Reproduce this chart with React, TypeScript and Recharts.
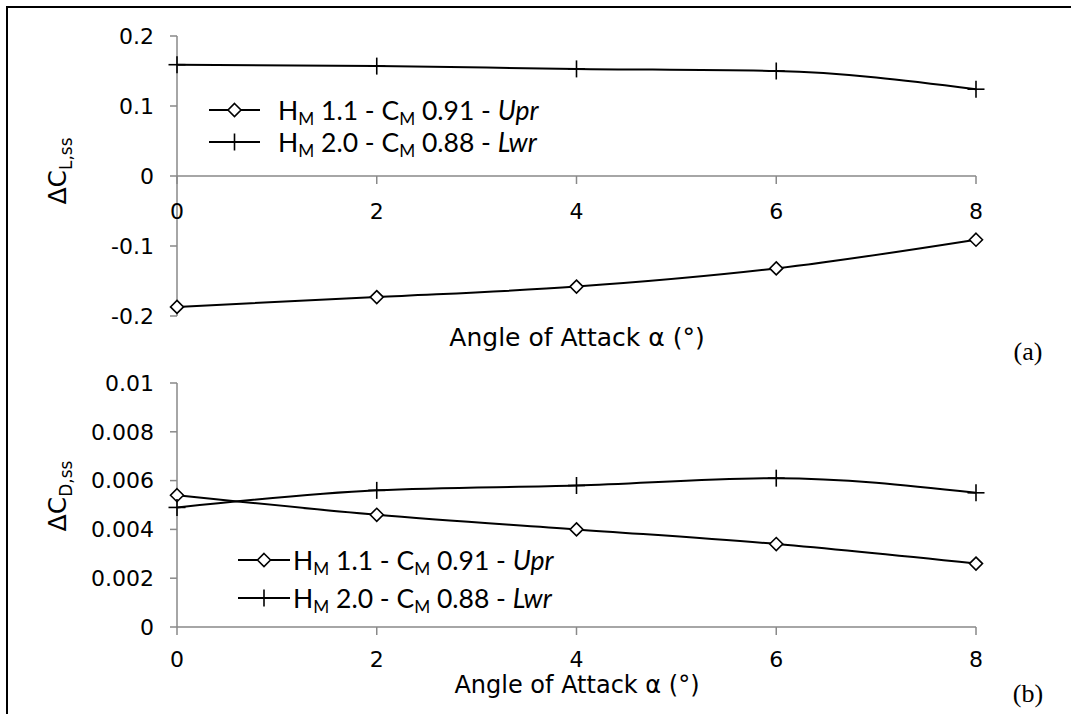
import React from 'react';
import { LineChart, Line, XAxis, YAxis, ReferenceLine, ReferenceDot, Legend } from 'recharts';

// ---- data ----
const angles = [0, 2, 4, 6, 8];
const liftUpr = [-0.187, -0.173, -0.158, -0.132, -0.091];
const liftLwr = [0.159, 0.157, 0.153, 0.15, 0.124];
const dragUpr = [0.0054, 0.0046, 0.004, 0.0034, 0.0026];
const dragLwr = [0.0049, 0.0056, 0.0058, 0.0061, 0.0055];

const xTicks = [0, 2, 4, 6, 8];
const liftTicks = [-0.2, -0.1, 0, 0.1, 0.2];
const liftTickLabels = ['-0.2', '-0.1', '0', '0.1', '0.2'];
const dragTicks = [0, 0.002, 0.004, 0.006, 0.008, 0.01];
const dragTickLabels = ['0', '0.002', '0.004', '0.006', '0.008', '0.01'];

const seriesInfo = [
  { key: 'upr', h: '1.1', c: '0.91', pos: 'Upr', marker: 'diamond' },
  { key: 'lwr', h: '2.0', c: '0.88', pos: 'Lwr', marker: 'plus' },
];
const xTitle = 'Angle of Attack α (°)';
const panelLabels = ['(a)', '(b)'];

const liftData = angles.map((a, i) => ({ aoa: a, upr: liftUpr[i], lwr: liftLwr[i] }));
const dragData = angles.map((a, i) => ({ aoa: a, upr: dragUpr[i], lwr: dragLwr[i] }));

// ---- styles ----
const AXIS = '#898989';
const TICK_SIZE_FONT = 22;
const TICK_FONT = { fill: '#000', fontSize: TICK_SIZE_FONT, fontFamily: 'DejaVu Sans' };

const diamondPath = (cx: number, cy: number, s = 6.5) =>
  `M${cx},${cy - s}L${cx + s},${cy}L${cx},${cy + s}L${cx - s},${cy}Z`;

const Marker = ({ cx, cy, type }: any) => {
  if (cx == null || cy == null) return null;
  if (type === 'diamond') {
    return <path d={diamondPath(cx, cy)} fill="#fff" stroke="#000" strokeWidth={1.6} />;
  }
  return (
    <g stroke="#000" strokeWidth={1.6}>
      <line x1={cx - 8.5} y1={cy} x2={cx + 8.5} y2={cy} />
      <line x1={cx} y1={cy - 8.5} x2={cx} y2={cy + 8.5} />
    </g>
  );
};

const dotFor = (type: string) => (p: any) => <Marker key={`${type}-${p.index}`} cx={p.cx} cy={p.cy} type={type} />;

const subStyle: React.CSSProperties = { fontSize: '0.65em', position: 'relative', top: '0.32em' };

const SeriesLabel = ({ info }: any) => (
  <span>
    H<span style={subStyle}>M</span> {info.h} - C<span style={subStyle}>M</span> {info.c} - <i>{info.pos}</i>
  </span>
);

const makeLegend = (iconW: number, gap: number, rowH: number) => (props: any) => {
  const entries = [...(props.payload || [])].sort(
    (a: any, b: any) =>
      seriesInfo.findIndex((s) => s.key === a.value) - seriesInfo.findIndex((s) => s.key === b.value)
  );
  return (
    <div style={{ fontFamily: 'Lato', fontSize: 26.5, color: '#000', lineHeight: 1 }}>
      {entries.map((entry: any) => {
        const info = seriesInfo.find((s) => s.key === entry.value) || seriesInfo[0];
        return (
          <div key={info.key} style={{ display: 'flex', alignItems: 'center', height: rowH, whiteSpace: 'nowrap' }}>
            <svg width={iconW} height={20} style={{ overflow: 'visible' }}>
              <line x1={0} y1={10} x2={iconW} y2={10} stroke="#000" strokeWidth={2} />
              <Marker cx={iconW / 2} cy={10} type={info.marker} />
            </svg>
            <span style={{ marginLeft: gap }}>
              <SeriesLabel info={info} />
            </span>
          </div>
        );
      })}
    </div>
  );
};

const XTickMark = (p: any) => {
  const { cx, cy, label } = p;
  if (cx == null || cy == null) return null;
  return (
    <g>
      <line x1={cx} y1={cy} x2={cx} y2={cy + 8} stroke={AXIS} strokeWidth={1.5} />
      <text x={cx} y={cy + 43} textAnchor="middle" fontSize={TICK_SIZE_FONT} fontFamily="DejaVu Sans" fill="#000">
        {label}
      </text>
    </g>
  );
};

const lines = (legend: any) => [
  <Line
    key="upr"
    dataKey="upr"
    name="upr"
    type="monotone"
    stroke="#000"
    strokeWidth={2}
    dot={dotFor('diamond')}
    activeDot={false}
    isAnimationActive={false}
  />,
  <Line
    key="lwr"
    dataKey="lwr"
    name="lwr"
    type="monotone"
    stroke="#000"
    strokeWidth={2}
    dot={dotFor('plus')}
    activeDot={false}
    isAnimationActive={false}
  />,
  legend,
];

export default function App() {
  return (
    <div style={{ position: 'absolute', left: 0, top: 0, width: 1071, height: 714, background: '#fff', overflow: 'hidden' }}>
      <div
        style={{
          position: 'absolute',
          left: 6,
          top: 6,
          width: 1080,
          height: 720,
          borderLeft: '2px solid #000',
          borderTop: '2px solid #000',
        }}
      />
      {/* Panel (a) */}
      <div style={{ position: 'absolute', left: 0, top: 0 }}>
        <LineChart width={1071} height={330} data={liftData} margin={{ top: 36, right: 95, left: 117, bottom: 14 }}>
          <XAxis dataKey="aoa" type="number" domain={[0, 8]} ticks={xTicks} hide />
          <YAxis
            type="number"
            domain={[-0.2, 0.2]}
            ticks={liftTicks}
            width={60}
            tickFormatter={(v: number) => liftTickLabels[liftTicks.indexOf(v)] ?? String(v)}
            axisLine={{ stroke: AXIS, strokeWidth: 1.5 }}
            tickLine={{ stroke: AXIS, strokeWidth: 1.5 }}
            tickSize={7}
            tickMargin={16}
            tick={TICK_FONT}
          />
          <ReferenceLine y={0} stroke={AXIS} strokeWidth={1.5} />
          {xTicks.map((t) => (
            <ReferenceDot
              key={`xt-${t}`}
              x={t}
              y={0}
              r={1}
              fill="none"
              stroke="none"
              shape={(p: any) => <XTickMark {...p} label={String(t)} />}
            />
          ))}
          {lines(
            <Legend
              key="leg"
              layout="vertical"
              verticalAlign="middle"
              align="center"
              wrapperStyle={{ left: 209, top: 94, width: 'auto' }}
              content={makeLegend(51, 18, 32)}
            />
          )}
        </LineChart>
      </div>
      {/* Panel (b) */}
      <div style={{ position: 'absolute', left: 0, top: 340 }}>
        <LineChart width={1071} height={360} data={dragData} margin={{ top: 43, right: 95, left: 117, bottom: 33 }}>
          <XAxis
            dataKey="aoa"
            type="number"
            domain={[0, 8]}
            ticks={xTicks}
            height={40}
            axisLine={{ stroke: AXIS, strokeWidth: 1.5 }}
            tickLine={{ stroke: AXIS, strokeWidth: 1.5 }}
            tickSize={8}
            tickMargin={16}
            tick={TICK_FONT}
          />
          <YAxis
            type="number"
            domain={[0, 0.01]}
            ticks={dragTicks}
            width={60}
            tickFormatter={(v: number) => dragTickLabels[dragTicks.indexOf(v)] ?? String(v)}
            axisLine={{ stroke: AXIS, strokeWidth: 1.5 }}
            tickLine={{ stroke: AXIS, strokeWidth: 1.5 }}
            tickSize={7}
            tickMargin={16}
            tick={TICK_FONT}
          />
          {lines(
            <Legend
              key="leg"
              layout="vertical"
              verticalAlign="middle"
              align="center"
              wrapperStyle={{ left: 238, top: 201, width: 'auto' }}
              content={makeLegend(52, 3, 38)}
            />
          )}
        </LineChart>
      </div>
      {/* Titles */}
      <svg width={1071} height={714} style={{ position: 'absolute', left: 0, top: 0, pointerEvents: 'none' }}>
        <text x={577} y={346} textAnchor="middle" fontSize={25} fontFamily="DejaVu Sans" fill="#000">
          {xTitle}
        </text>
        <text x={577} y={693} textAnchor="middle" fontSize={24} fontFamily="DejaVu Sans" fill="#000">
          {xTitle}
        </text>
        <text x={1028} y={360} textAnchor="middle" fontSize={26} fontFamily="Liberation Serif" fill="#000">
          {panelLabels[0]}
        </text>
        <text x={1028} y={702} textAnchor="middle" fontSize={26} fontFamily="Liberation Serif" fill="#000">
          {panelLabels[1]}
        </text>
        <g transform="translate(66,171) rotate(-90)">
          <text x={0} y={0} textAnchor="middle" fontSize={25} fontFamily="DejaVu Sans" fill="#000">
            ΔC<tspan fontSize={17} dy={6}>L,ss</tspan>
          </text>
        </g>
        <g transform="translate(66,496) rotate(-90)">
          <text x={0} y={0} textAnchor="middle" fontSize={25} fontFamily="DejaVu Sans" fill="#000">
            ΔC<tspan fontSize={17} dy={6}>D,ss</tspan>
          </text>
        </g>
      </svg>
    </div>
  );
}
